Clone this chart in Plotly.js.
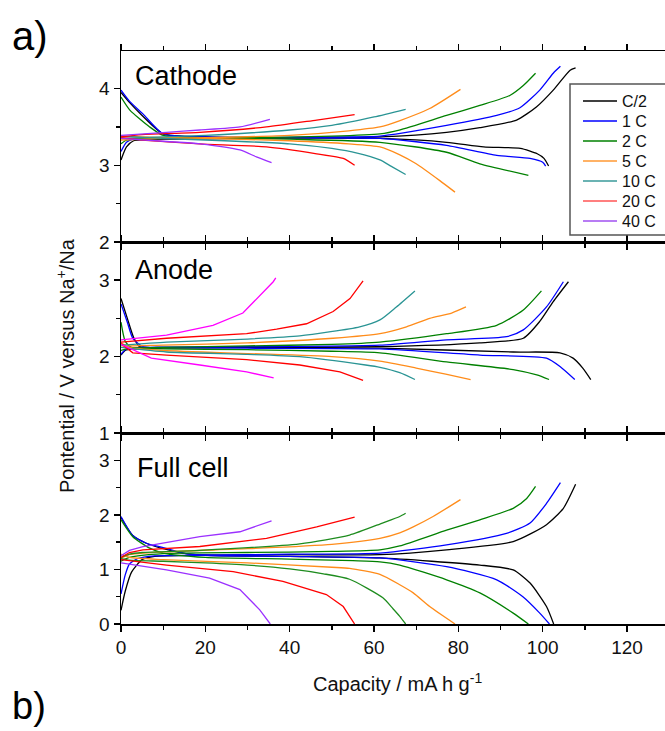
<!DOCTYPE html>
<html>
<head>
<meta charset="utf-8">
<script src="https://cdn.plot.ly/plotly-3.0.1.min.js"></script>
<style>
html,body{margin:0;padding:0;background:#fff;}
#chart{width:665px;height:731px;}
</style>
</head>
<body>
<div id="chart"></div>
<script>
// ---------- categories / colours ----------
const rates = ["C/2", "1 C", "2 C", "5 C", "10 C", "20 C", "40 C"];
const rateColors = ["#000000", "#0000ff", "#008000", "#ff8c1a", "#2a9494", "#ff0000", "#9b30ff"];
const anodeColors = ["#000000", "#0000ff", "#008000", "#ff8c1a", "#2a9494", "#ff0000", "#ff00ff"];
const fullColors = ["#000000", "#0000ff", "#008000", "#ff8c1a", "#1e8c1e", "#ff0000", "#9b30ff"];
const legendColors = ["#000000", "#0000ff", "#008000", "#ff9933", "#3a9a9a", "#ff5555", "#a050f0"];
const panelLabels = ["Cathode", "Anode", "Full cell"];
const xTickVals = [0, 20, 40, 60, 80, 100, 120];

// ---------- CATHODE (V vs Na+/Na) ----------
const cat_C2_ch_x = [0, 1.3, 3, 10, 30, 50, 61.4, 77.2, 85.1, 93.8, 98.5, 102.5, 106.5, 107.8];
const cat_C2_ch_y = [3.07, 3.24, 3.32, 3.34, 3.35, 3.36, 3.37, 3.43, 3.49, 3.59, 3.76, 3.98, 4.24, 4.27];
const cat_C2_dis_x = [0, 2, 5, 10, 20, 40, 61.4, 77.2, 86, 94.7, 98.7, 100.3, 101.4];
const cat_C2_dis_y = [3.95, 3.82, 3.65, 3.41, 3.37, 3.36, 3.35, 3.30, 3.24, 3.22, 3.15, 3.09, 2.99];
const cat_1C_ch_x = [0, 1.3, 3, 10, 30, 50, 61.4, 77.2, 89.1, 94.6, 99.3, 102.5, 104.2];
const cat_1C_ch_y = [3.18, 3.30, 3.34, 3.35, 3.36, 3.37, 3.38, 3.52, 3.65, 3.75, 3.98, 4.20, 4.29];
const cat_1C_dis_x = [0, 2.1, 5.2, 10, 20, 40, 61.4, 77.2, 89.1, 97, 100, 100.7];
const cat_1C_dis_y = [3.98, 3.83, 3.67, 3.41, 3.37, 3.36, 3.35, 3.26, 3.13, 3.09, 3.04, 2.99];
const cat_2C_ch_x = [0, 1, 3, 10, 30, 50, 61.4, 66, 77.2, 85.1, 92.2, 95.4, 98.3];
const cat_2C_ch_y = [3.28, 3.32, 3.34, 3.35, 3.36, 3.38, 3.41, 3.46, 3.65, 3.78, 3.91, 4.04, 4.20];
const cat_2C_dis_x = [0, 2.1, 6.8, 10, 20, 40, 61.4, 77.2, 85.1, 96.6];
const cat_2C_dis_y = [3.89, 3.72, 3.50, 3.39, 3.36, 3.34, 3.30, 3.17, 3.02, 2.87];
const cat_5C_ch_x = [0, 10, 20, 40, 54, 61.4, 66, 73.2, 80.5];
const cat_5C_ch_y = [3.33, 3.35, 3.36, 3.39, 3.45, 3.50, 3.58, 3.74, 3.99];
const cat_5C_dis_x = [0, 10, 20, 40, 54, 61.4, 66, 70, 75.6, 79.2];
const cat_5C_dis_y = [3.38, 3.36, 3.35, 3.32, 3.28, 3.24, 3.14, 3.02, 2.80, 2.65];
const cat_10C_ch_x = [0, 10, 20, 40, 50, 60, 67.5];
const cat_10C_ch_y = [3.35, 3.37, 3.39, 3.46, 3.52, 3.63, 3.73];
const cat_10C_dis_x = [0, 10, 20, 40, 50, 56, 61.4, 64, 67.5];
const cat_10C_dis_y = [3.38, 3.35, 3.33, 3.28, 3.22, 3.16, 3.07, 2.99, 2.88];
const cat_20C_ch_x = [0, 5, 18.7, 34.5, 46.4, 55.4];
const cat_20C_ch_y = [3.37, 3.40, 3.43, 3.50, 3.59, 3.66];
const cat_20C_dis_x = [0, 5, 18.7, 34.5, 46.4, 52.7, 55.4];
const cat_20C_dis_y = [3.36, 3.33, 3.28, 3.24, 3.15, 3.09, 3.00];
const cat_40C_ch_x = [0, 10.8, 18.7, 28.2, 35.3];
const cat_40C_ch_y = [3.39, 3.43, 3.46, 3.50, 3.60];
const cat_40C_dis_x = [0, 10.8, 18.7, 28.2, 32.1, 35.7];
const cat_40C_dis_y = [3.35, 3.31, 3.28, 3.20, 3.11, 3.035];

// ---------- ANODE (V vs Na+/Na) ----------
const an_C2_ch_x = [0, 1, 3, 10, 30, 61.4, 85.1, 95.4, 99.3, 102.5, 106.1];
const an_C2_ch_y = [2.02, 2.08, 2.10, 2.11, 2.12, 2.13, 2.18, 2.24, 2.46, 2.72, 2.98];
const an_C2_dis_x = [0, 1.5, 3, 4.4, 10, 30, 61.4, 93, 104.1, 107.2, 109.5, 111.4];
const an_C2_dis_y = [2.76, 2.50, 2.25, 2.13, 2.12, 2.12, 2.11, 2.06, 2.05, 1.98, 1.85, 1.70];
const an_1C_ch_x = [0, 1, 3, 10, 30, 61.4, 77.2, 91.4, 95.4, 100.9, 104.9];
const an_1C_ch_y = [2.03, 2.09, 2.11, 2.12, 2.13, 2.15, 2.22, 2.26, 2.35, 2.65, 2.98];
const an_1C_dis_x = [0, 1.5, 2.8, 5.2, 10, 30, 61.4, 85.1, 100.9, 104.1, 107.6];
const an_1C_dis_y = [2.69, 2.45, 2.24, 2.13, 2.12, 2.11, 2.10, 2.02, 1.98, 1.87, 1.70];
const an_2C_ch_x = [0, 2, 10, 30, 50, 61.4, 77.2, 89.1, 95.4, 99.7];
const an_2C_ch_y = [2.08, 2.11, 2.12, 2.14, 2.16, 2.19, 2.30, 2.41, 2.61, 2.86];
const an_2C_dis_x = [0, 1, 2.5, 10, 30, 50, 61.4, 77.2, 93, 98.6, 101.5];
const an_2C_dis_y = [2.45, 2.20, 2.12, 2.10, 2.09, 2.07, 2.05, 1.93, 1.83, 1.76, 1.70];
const an_5C_ch_x = [0, 2, 10, 30, 50.3, 61.4, 67.7, 73.2, 78.4, 81.8];
const an_5C_ch_y = [2.12, 2.14, 2.15, 2.18, 2.24, 2.30, 2.39, 2.50, 2.57, 2.65];
const an_5C_dis_x = [0, 2, 10, 30, 50, 61.4, 70, 77, 82.9];
const an_5C_dis_y = [2.18, 2.12, 2.08, 2.04, 2.00, 1.94, 1.85, 1.77, 1.70];
const an_10C_ch_x = [0, 10.8, 30, 42.4, 56.6, 61.4, 65.3, 69.7];
const an_10C_ch_y = [2.15, 2.19, 2.23, 2.27, 2.39, 2.48, 2.65, 2.86];
const an_10C_dis_x = [0, 10.8, 30, 42.4, 58, 61.4, 66.1, 69.7];
const an_10C_dis_y = [2.12, 2.06, 2.03, 2.00, 1.89, 1.86, 1.79, 1.70];
const an_20C_ch_x = [0, 10.8, 29.8, 36.9, 44, 50.3, 54.3, 57.4];
const an_20C_ch_y = [2.19, 2.24, 2.30, 2.36, 2.43, 2.59, 2.76, 2.99];
const an_20C_dis_x = [0, 2.8, 10.8, 29.8, 42.4, 51.9, 57.4];
const an_20C_dis_y = [2.17, 2.05, 2.02, 1.96, 1.89, 1.80, 1.69];
const an_40C_ch_x = [0, 10.8, 21.8, 28.9, 36.1, 36.7];
const an_40C_ch_y = [2.22, 2.28, 2.41, 2.57, 2.98, 3.03];
const an_40C_dis_x = [0, 2.8, 7.2, 18.7, 29.8, 36.2];
const an_40C_dis_y = [2.16, 2.09, 1.98, 1.89, 1.80, 1.72];

// ---------- FULL CELL (V) ----------
const fc_C2_ch_x = [0, 1, 2.5, 5, 8, 20, 40, 61.4, 77.2, 93, 100.9, 104.9, 107.8];
const fc_C2_ch_y = [0.25, 0.60, 0.95, 1.18, 1.24, 1.26, 1.27, 1.27, 1.36, 1.51, 1.82, 2.12, 2.56];
const fc_C2_dis_x = [0, 2.8, 6, 10, 14.7, 20, 40, 61.4, 85.1, 93, 97, 100.9, 102.6];
const fc_C2_dis_y = [1.95, 1.62, 1.48, 1.38, 1.30, 1.26, 1.24, 1.21, 1.08, 0.99, 0.75, 0.32, 0];
const fc_1C_ch_x = [0, 1, 2, 4, 8, 20, 40, 61.4, 77.2, 91.4, 97, 100.9, 104.2];
const fc_1C_ch_y = [0.55, 0.90, 1.10, 1.20, 1.25, 1.26, 1.28, 1.30, 1.45, 1.66, 1.85, 2.21, 2.59];
const fc_1C_dis_x = [0, 2.8, 6, 10, 14.7, 20, 40, 61.4, 77.2, 89.1, 95.3, 99.3, 101.6];
const fc_1C_dis_y = [1.97, 1.62, 1.48, 1.40, 1.30, 1.26, 1.24, 1.21, 1.05, 0.81, 0.50, 0.20, 0];
const fc_2C_ch_x = [0, 2, 10, 30, 50, 61.4, 66.1, 77.2, 85.1, 93, 96.2, 98.3];
const fc_2C_ch_y = [1.15, 1.22, 1.29, 1.31, 1.33, 1.36, 1.43, 1.72, 1.91, 2.12, 2.30, 2.52];
const fc_2C_dis_x = [0, 2.8, 6.8, 10, 20, 40, 55, 61.4, 66.1, 77.2, 85.1, 93, 96.6];
const fc_2C_dis_y = [1.91, 1.60, 1.39, 1.30, 1.22, 1.19, 1.16, 1.14, 1.08, 0.81, 0.57, 0.20, 0];
const fc_5C_ch_x = [0, 2, 10, 30, 50, 61.4, 66.1, 69.3, 74, 80.5];
const fc_5C_ch_y = [1.20, 1.27, 1.32, 1.38, 1.46, 1.57, 1.67, 1.78, 1.97, 2.28];
const fc_5C_dis_x = [0, 2, 10, 30, 50, 54.2, 61.4, 66.1, 69.3, 73.2, 79.2];
const fc_5C_dis_y = [1.28, 1.22, 1.18, 1.12, 1.04, 1.02, 0.91, 0.72, 0.57, 0.32, 0];
const fc_10C_ch_x = [0, 2, 5, 18.7, 42.4, 54.2, 62, 66.1, 67.5];
const fc_10C_ch_y = [1.22, 1.28, 1.31, 1.35, 1.47, 1.63, 1.85, 1.97, 2.03];
const fc_10C_dis_x = [0, 2, 10, 20, 30, 40, 48, 54.2, 62.1, 64.5, 66.1, 67.5];
const fc_10C_dis_y = [1.20, 1.17, 1.15, 1.12, 1.08, 1.01, 0.92, 0.82, 0.48, 0.28, 0.14, 0];
const fc_20C_ch_x = [0, 2, 5.2, 18.7, 34.5, 46.4, 55.4];
const fc_20C_ch_y = [1.22, 1.31, 1.36, 1.42, 1.57, 1.78, 1.96];
const fc_20C_dis_x = [0, 10.8, 26.6, 38.4, 48.7, 52.7, 55.4];
const fc_20C_dis_y = [1.18, 1.08, 0.96, 0.78, 0.54, 0.32, 0];
const fc_40C_ch_x = [0, 2, 5.2, 18.7, 28.2, 35.7];
const fc_40C_ch_y = [1.25, 1.35, 1.42, 1.60, 1.69, 1.89];
const fc_40C_dis_x = [0, 10.8, 21, 28.2, 32.9, 35.4];
const fc_40C_dis_y = [1.12, 0.99, 0.84, 0.63, 0.26, 0];

// ---------- assemble ----------
const cathodeSet = [
  [cat_C2_ch_x, cat_C2_ch_y, cat_C2_dis_x, cat_C2_dis_y],
  [cat_1C_ch_x, cat_1C_ch_y, cat_1C_dis_x, cat_1C_dis_y],
  [cat_2C_ch_x, cat_2C_ch_y, cat_2C_dis_x, cat_2C_dis_y],
  [cat_5C_ch_x, cat_5C_ch_y, cat_5C_dis_x, cat_5C_dis_y],
  [cat_10C_ch_x, cat_10C_ch_y, cat_10C_dis_x, cat_10C_dis_y],
  [cat_20C_ch_x, cat_20C_ch_y, cat_20C_dis_x, cat_20C_dis_y],
  [cat_40C_ch_x, cat_40C_ch_y, cat_40C_dis_x, cat_40C_dis_y]
];
const anodeSet = [
  [an_C2_ch_x, an_C2_ch_y, an_C2_dis_x, an_C2_dis_y],
  [an_1C_ch_x, an_1C_ch_y, an_1C_dis_x, an_1C_dis_y],
  [an_2C_ch_x, an_2C_ch_y, an_2C_dis_x, an_2C_dis_y],
  [an_5C_ch_x, an_5C_ch_y, an_5C_dis_x, an_5C_dis_y],
  [an_10C_ch_x, an_10C_ch_y, an_10C_dis_x, an_10C_dis_y],
  [an_20C_ch_x, an_20C_ch_y, an_20C_dis_x, an_20C_dis_y],
  [an_40C_ch_x, an_40C_ch_y, an_40C_dis_x, an_40C_dis_y]
];
const fullSet = [
  [fc_C2_ch_x, fc_C2_ch_y, fc_C2_dis_x, fc_C2_dis_y],
  [fc_1C_ch_x, fc_1C_ch_y, fc_1C_dis_x, fc_1C_dis_y],
  [fc_2C_ch_x, fc_2C_ch_y, fc_2C_dis_x, fc_2C_dis_y],
  [fc_5C_ch_x, fc_5C_ch_y, fc_5C_dis_x, fc_5C_dis_y],
  [fc_10C_ch_x, fc_10C_ch_y, fc_10C_dis_x, fc_10C_dis_y],
  [fc_20C_ch_x, fc_20C_ch_y, fc_20C_dis_x, fc_20C_dis_y],
  [fc_40C_ch_x, fc_40C_ch_y, fc_40C_dis_x, fc_40C_dis_y]
];

const FONT = "Arial, 'Liberation Sans', sans-serif";
const traces = [];
function addPanel(set, colors, xa, ya, angularFrom) {
  for (let i = 0; i < set.length; i++) {
    const s = set[i];
    const shape = (i >= angularFrom) ? 'linear' : 'spline';
    traces.push({x: s[0], y: s[1], xaxis: xa, yaxis: ya, type: 'scatter', mode: 'lines',
      line: {color: colors[i], width: 1.3, shape: shape, smoothing: 0.6}, name: rates[i],
      showlegend: false, hoverinfo: 'skip'});
    traces.push({x: s[2], y: s[3], xaxis: xa, yaxis: ya, type: 'scatter', mode: 'lines',
      line: {color: colors[i], width: 1.3, shape: shape, smoothing: 0.6}, name: rates[i],
      showlegend: false, hoverinfo: 'skip'});
  }
}
addPanel(cathodeSet, rateColors, 'x3', 'y', 99);
addPanel(anodeSet, anodeColors, 'x2', 'y2', 5);
addPanel(fullSet, fullColors, 'x', 'y3', 5);

// ---------- legend box (drawn inside the cathode panel, clipped at right like the original) ----------
const L = 121, PW = 544, PB = 624, PH = 573;
const px2x = p => (p - L) / PW;
const px2y = p => (PB - p) / PH;
const shapes = [{type: 'rect', xref: 'paper', yref: 'paper', x0: px2x(570), x1: 1.08, y0: px2y(235), y1: px2y(84),
  fillcolor: '#ffffff', line: {color: '#555555', width: 1.5}, layer: 'above'}];
const legendAnn = [];
rates.forEach((r, i) => {
  const yy = px2y(101 + 20 * i);
  shapes.push({type: 'line', xref: 'paper', yref: 'paper', x0: px2x(583), x1: px2x(617), y0: yy, y1: yy,
    line: {color: legendColors[i], width: 1.6}, layer: 'above'});
  legendAnn.push({text: r, xref: 'paper', yref: 'paper', x: px2x(620), y: yy, xanchor: 'left', yanchor: 'middle',
    showarrow: false, font: {family: FONT, size: 16, color: '#111'}});
});

const xBase = {
  range: [0, 129], tickvals: xTickVals, ticks: 'outside', ticklen: 6, tickwidth: 1.5,
  tickcolor: '#000', showline: true, linecolor: '#000', linewidth: 1.5, mirror: 'ticks',
  showgrid: false, zeroline: false,
  minor: {dtick: 10, ticks: 'outside', ticklen: 4, tickwidth: 1.3, tickcolor: '#000', showgrid: false},
  tickfont: {family: FONT, size: 19, color: '#111'}
};
const yBase = {
  dtick: 1, ticks: 'outside', ticklen: 6, tickwidth: 1.5, tickcolor: '#000',
  showline: true, linecolor: '#000', linewidth: 1.5, mirror: false, showgrid: false, zeroline: false,
  minor: {dtick: 0.5, ticks: 'outside', ticklen: 4, tickwidth: 1.3, tickcolor: '#000', showgrid: false},
  tickfont: {family: FONT, size: 19, color: '#111'}
};

const layout = {
  width: 665, height: 731,
  margin: {l: L, r: 0, t: 51, b: 107},
  paper_bgcolor: '#fff', plot_bgcolor: '#fff',
  showlegend: false,
  xaxis: Object.assign({}, xBase, {anchor: 'y3', domain: [0, 1]}),
  xaxis2: Object.assign({}, xBase, {anchor: 'y2', domain: [0, 1], showticklabels: false, matches: 'x'}),
  xaxis3: Object.assign({}, xBase, {anchor: 'y', domain: [0, 1], showticklabels: false, matches: 'x'}),
  yaxis: Object.assign({}, yBase, {range: [2, 4.49], domain: [2/3, 1], anchor: 'x3'}),
  yaxis2: Object.assign({}, yBase, {range: [1, 3.5], domain: [1/3, 2/3], anchor: 'x2'}),
  yaxis3: Object.assign({}, yBase, {range: [0, 3.5], domain: [0, 1/3], anchor: 'x'}),
  shapes: shapes,
  annotations: [
    {text: panelLabels[0], xref: 'paper', yref: 'paper', x: 0.022, y: 0.9564, xanchor: 'left', yanchor: 'middle', showarrow: false, font: {family: FONT, size: 27, color: '#000'}},
    {text: panelLabels[1], xref: 'paper', yref: 'paper', x: 0.022, y: 0.6177, xanchor: 'left', yanchor: 'middle', showarrow: false, font: {family: FONT, size: 27, color: '#000'}},
    {text: panelLabels[2], xref: 'paper', yref: 'paper', x: 0.026, y: 0.2725, xanchor: 'left', yanchor: 'middle', showarrow: false, font: {family: FONT, size: 27, color: '#000'}},
    {text: 'Capacity / mA h g<sup>-1</sup>', xref: 'paper', yref: 'paper', x: 0.509, y: px2y(682), xanchor: 'center', yanchor: 'middle', showarrow: false, font: {family: FONT, size: 20, color: '#111'}},
    {text: 'Pontential / V versus Na<sup>+</sup>/Na', xref: 'paper', yref: 'paper', x: px2x(65), y: px2y(366), xanchor: 'center', yanchor: 'middle', textangle: -90, showarrow: false, font: {family: FONT, size: 20, color: '#111'}},
    {text: 'a)', xref: 'paper', yref: 'paper', x: px2x(10), y: px2y(36), xanchor: 'left', yanchor: 'middle', showarrow: false, font: {family: FONT, size: 40, color: '#000'}},
    {text: 'b)', xref: 'paper', yref: 'paper', x: px2x(10), y: px2y(706), xanchor: 'left', yanchor: 'middle', showarrow: false, font: {family: FONT, size: 38, color: '#000'}}
  ].concat(legendAnn)
};

Plotly.newPlot('chart', traces, layout, {staticPlot: true, displayModeBar: false});
</script>
</body>
</html>
